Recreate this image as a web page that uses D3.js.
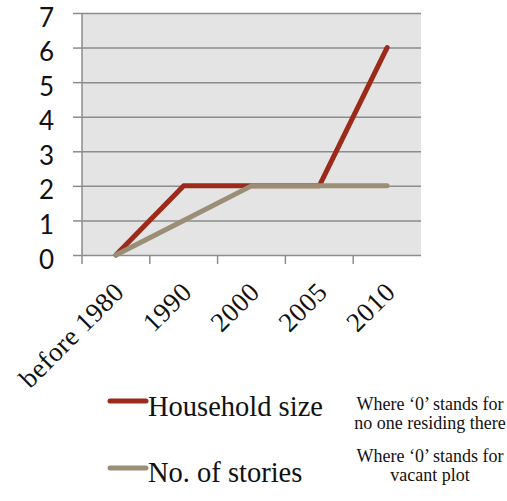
<!DOCTYPE html>
<html>
<head>
<meta charset="utf-8">
<script src="https://cdn.jsdelivr.net/npm/d3@7"></script>
<style>
  html, body { margin: 0; padding: 0; background: #fff; }
</style>
</head>
<body>
<div id="chart"></div>
<script>
const categories = ['before 1980', '1990', '2000', '2005', '2010'];
const householdSize = [0, 2, 2, 2, 6];
const stories = [0, 1, 2, 2, 2];
const yTicks = [0, 1, 2, 3, 4, 5, 6, 7];

const series = [
  { name: 'Household size', values: householdSize, color: '#9c2a1b', note: ['Where \u20180\u2019 stands for', 'no one residing there'] },
  { name: 'No. of stories', values: stories, color: '#9a8e76', note: ['Where \u20180\u2019 stands for', 'vacant plot'] },
];

const width = 507;
const height = 501;
const plot = { left: 82, right: 421, top: 13, bottom: 255 };

const svg = d3.select('#chart')
  .append('svg')
  .attr('width', width)
  .attr('height', height);

const x = d3.scaleBand(categories, [plot.left, plot.right]);
const y = d3.scaleLinear([0, 7], [plot.bottom, plot.top]);

// plot background
svg.append('rect')
  .attr('x', plot.left)
  .attr('y', plot.top)
  .attr('width', plot.right - plot.left)
  .attr('height', plot.bottom - plot.top)
  .attr('fill', '#e4e4e4');

// y axis with gridlines
const yAxis = svg.append('g')
  .attr('transform', `translate(${plot.left},0)`)
  .call(d3.axisLeft(y).tickValues(yTicks).tickSize(9).tickFormat(d3.format('d')))
  .call((g) => g.select('.domain').attr('stroke', '#8c8c8c').attr('stroke-width', 1.5)
    .attr('d', `M0,${plot.top}V${plot.bottom}`));
yAxis.selectAll('.tick line').attr('stroke', '#8c8c8c').attr('stroke-width', 1.5);
yAxis.selectAll('.tick')
  .append('line')
  .attr('x2', plot.right - plot.left)
  .attr('stroke', '#8c8c8c')
  .attr('stroke-width', 1.5);
yAxis.selectAll('.tick text')
  .attr('x', -28)
  .attr('dy', '0.5em')
  .attr('font-family', 'Lato, "Open Sans", sans-serif')
  .attr('font-size', 26)
  .attr('fill', '#111');

// x axis: ticks on category boundaries
const xAxis = svg.append('g')
  .attr('transform', `translate(0,${plot.bottom})`);
xAxis.selectAll('line.tk')
  .data(categories)
  .join('line')
  .attr('class', 'tk')
  .attr('x1', (d) => x(d))
  .attr('x2', (d) => x(d))
  .attr('y2', 9)
  .attr('stroke', '#8c8c8c')
  .attr('stroke-width', 1.5);
xAxis.selectAll('text')
  .data(categories)
  .join('text')
  .attr('transform', (d) => `translate(${x(d) + x.bandwidth() / 2 + 3},${32}) rotate(-45)`)
  .attr('text-anchor', 'end')
  .attr('dy', '0.35em')
  .attr('font-family', '"Liberation Serif", serif')
  .attr('font-size', 27)
  .attr('letter-spacing', 0.5)
  .attr('fill', '#111')
  .text((d) => d);

// lines
const line = d3.line()
  .x((d, i) => x(categories[i]) + x.bandwidth() / 2)
  .y((d) => y(d));

svg.append('g')
  .selectAll('path')
  .data(series)
  .join('path')
  .attr('fill', 'none')
  .attr('stroke', (d) => d.color)
  .attr('stroke-width', 5)
  .attr('stroke-linejoin', 'round')
  .attr('stroke-linecap', 'round')
  .attr('d', (d) => line(d.values));

// legend
const legend = svg.append('g')
  .selectAll('g')
  .data(series)
  .join('g');

legend.append('line')
  .attr('x1', 110)
  .attr('x2', 146)
  .attr('y1', (d, i) => 401 + i * 67)
  .attr('y2', (d, i) => 401 + i * 67)
  .attr('stroke', (d) => d.color)
  .attr('stroke-width', 5)
  .attr('stroke-linecap', 'round');

legend.append('text')
  .attr('x', 148)
  .attr('y', (d, i) => 416 + i * 66)
  .attr('font-family', '"Liberation Serif", serif')
  .attr('font-size', 28.5)
  .attr('fill', '#111')
  .text((d) => d.name);

legend.append('text')
  .attr('y', (d, i) => 410 + i * 52)
  .attr('text-anchor', 'middle')
  .attr('font-family', '"Liberation Serif", serif')
  .attr('font-size', 18)
  .attr('fill', '#111')
  .selectAll('tspan')
  .data((d) => d.note)
  .join('tspan')
  .attr('x', 430)
  .attr('dy', (d, i) => (i === 0 ? 0 : 19))
  .text((d) => d);
</script>
</body>
</html>
